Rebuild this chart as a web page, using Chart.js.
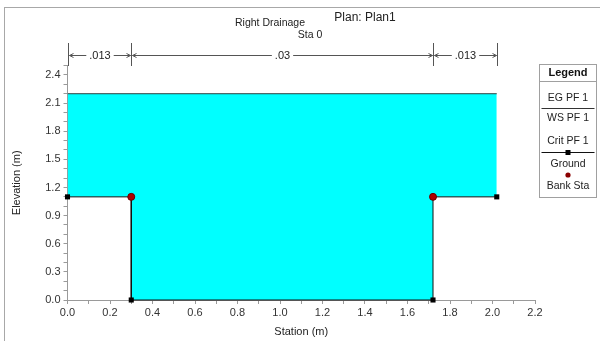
<!DOCTYPE html>
<html>
<head>
<meta charset="utf-8">
<script src="https://cdn.jsdelivr.net/npm/chart.js@4/dist/chart.umd.min.js"></script>
<style>
html,body{margin:0;padding:0;background:#fff;}
#wrap{width:600px;height:341px;position:relative;}
</style>
</head>
<body>
<div id="wrap"><canvas id="c" width="600" height="341"></canvas></div>
<script>
// ---- data ----
const groundStations = [0, 0.3, 0.3, 1.72, 1.72, 2.02];
const groundElev     = [1.1, 1.1, 0, 0, 1.1, 1.1];
const wsStations     = [0, 2.02];
const wsElev         = [2.2, 2.2];
const bankStations   = [0.3, 1.72];
const bankElev       = [1.1, 1.1];
const manningBreaks  = [0, 0.3, 1.72, 2.02];
const manningN       = ['.013', '.03', '.013'];
const legendLabels   = ['EG PF 1', 'WS PF 1', 'Crit PF 1', 'Ground', 'Bank Sta'];
const titleMain = 'Plan: Plan1';
const titleRiver = 'Right Drainage';
const titleSta = 'Sta 0';
const xLabelEvery = 2;   // label every 0.2 (minor 0.1)
const yLabelEvery = 3;   // label every 0.3 (minor 0.1)

const pts = (xs, ys) => xs.map((x, i) => ({x: x, y: ys[i]}));
const FONT = '"Liberation Sans", Arial, sans-serif';

const decor = {
  id: 'decor',
  beforeDraw(chart) {
    const ctx = chart.ctx;
    ctx.save();
    ctx.fillStyle = '#fff';
    ctx.fillRect(0, 0, chart.width, chart.height);
    ctx.strokeStyle = '#a8a8a8';
    ctx.lineWidth = 1;
    ctx.strokeRect(4.5, 7.5, 800, 600);
    ctx.restore();
  },
  afterDraw(chart) {
    const ctx = chart.ctx;
    const xs = chart.scales.x;
    ctx.save();
    // titles
    ctx.fillStyle = '#222';
    ctx.textAlign = 'center';
    ctx.textBaseline = 'middle';
    ctx.font = '12px ' + FONT;
    ctx.fillText(titleMain, 365, 18);
    ctx.font = '10.5px ' + FONT;
    ctx.fillText(titleRiver, 270, 23);
    ctx.fillText(titleSta, 310, 35);

    // Manning's n bar
    const yBar = 55.5;
    ctx.strokeStyle = '#555';
    ctx.lineWidth = 1;
    const bx = manningBreaks.map(v => Math.round(xs.getPixelForValue(v)) + 0.5);
    bx.forEach(px => {
      ctx.beginPath(); ctx.moveTo(px, 43); ctx.lineTo(px, 66); ctx.stroke();
    });
    ctx.font = '11px ' + FONT;
    ctx.fillStyle = '#222';
    for (let i = 0; i < manningN.length; i++) {
      const a = bx[i], b = bx[i + 1];
      const mid = (a + b) / 2;
      const w = ctx.measureText(manningN[i]).width;
      ctx.fillText(manningN[i], mid, yBar);
      ctx.beginPath();
      ctx.moveTo(a + 1, yBar); ctx.lineTo(mid - w / 2 - 3, yBar);
      ctx.moveTo(mid + w / 2 + 3, yBar); ctx.lineTo(b - 1, yBar);
      // arrow heads
      ctx.moveTo(a + 5, yBar - 2); ctx.lineTo(a + 1, yBar); ctx.lineTo(a + 5, yBar + 2);
      ctx.moveTo(b - 5, yBar - 2); ctx.lineTo(b - 1, yBar); ctx.lineTo(b - 5, yBar + 2);
      ctx.stroke();
    }

    // legend box
    const L = 539.5, R = 596.5, T = 64.5, B = 197.5, cx = (L + R) / 2;
    ctx.strokeStyle = '#a0a0a0';
    ctx.strokeRect(L, T, R - L, B - T);
    ctx.beginPath(); ctx.moveTo(L, 81.5); ctx.lineTo(R, 81.5); ctx.stroke();
    ctx.fillStyle = '#111';
    ctx.font = 'bold 11px ' + FONT;
    ctx.fillText('Legend', cx, 73);
    ctx.font = '10.5px ' + FONT;
    ctx.fillStyle = '#222';
    const ly = [98, 118, 141, 164, 186];
    legendLabels.forEach((t, i) => ctx.fillText(t, cx, ly[i]));
    // EG symbol
    ctx.strokeStyle = '#333';
    ctx.beginPath(); ctx.moveTo(L + 2, 108.5); ctx.lineTo(R - 2, 108.5); ctx.stroke();
    // Ground symbol
    ctx.strokeStyle = '#111';
    ctx.beginPath(); ctx.moveTo(L + 2, 152.5); ctx.lineTo(R - 2, 152.5); ctx.stroke();
    ctx.fillStyle = '#000';
    ctx.fillRect(cx - 2.5, 150, 5, 5);
    // Bank sta symbol
    ctx.fillStyle = '#8b0000';
    ctx.beginPath(); ctx.arc(cx, 175, 2.6, 0, Math.PI * 2); ctx.fill();
    ctx.restore();
  }
};

const fmt = (v) => (Math.round(v * 10) / 10).toFixed(1);

new Chart(document.getElementById('c'), {
  type: 'line',
  data: {
    datasets: [
      {
        label: 'Bank Sta',
        data: pts(bankStations, bankElev),
        showLine: false,
        clip: false,
        pointStyle: 'circle',
        pointRadius: 3.5,
        pointBackgroundColor: '#b00000',
        pointBorderColor: '#6a0000',
        pointBorderWidth: 1
      },
      {
        label: 'Ground',
        data: pts(groundStations, groundElev),
        clip: false,
        borderColor: '#111',
        borderWidth: 1,
        fill: false,
        pointStyle: 'rect',
        pointRadius: 3.6,
        pointBackgroundColor: '#000',
        pointBorderColor: '#000',
        pointBorderWidth: 0,
        tension: 0
      },
      {
        label: 'WS PF 1',
        data: pts(wsStations, wsElev),
        borderColor: '#2f3f3f',
        borderWidth: 1,
        backgroundColor: '#00ffff',
        fill: { target: 1 },
        pointRadius: 0,
        tension: 0
      }
    ]
  },
  options: {
    responsive: false,
    animation: false,
    devicePixelRatio: 1,
    layout: { padding: { left: 0, right: 65, top: 65.6, bottom: 0 } },
    plugins: { legend: { display: false }, tooltip: { enabled: false } },
    scales: {
      x: {
        type: 'linear',
        min: 0, max: 2.2,
        afterFit: (s) => { s.height = 41; },
        border: { color: '#9a9a9a', width: 1 },
        grid: { drawOnChartArea: false, drawTicks: true, tickLength: 4, color: '#9a9a9a' },
        ticks: {
          stepSize: 0.1, autoSkip: false, maxRotation: 0, padding: 2,
          color: '#333', font: { family: FONT, size: 11 },
          callback: (v) => (Math.round(v * 10) % xLabelEvery === 0 ? fmt(v) : '')
        },
        title: { display: true, text: 'Station (m)', color: '#222',
                 font: { family: FONT, size: 11 }, padding: { top: 0, bottom: 2 } }
      },
      y: {
        type: 'linear',
        min: 0, max: 2.5,
        afterFit: (s) => { s.width = 67.5; },
        border: { color: '#9a9a9a', width: 1 },
        grid: { drawOnChartArea: false, drawTicks: true, tickLength: 4, color: '#9a9a9a' },
        ticks: {
          stepSize: 0.1, autoSkip: false, padding: 3,
          color: '#333', font: { family: FONT, size: 11 },
          callback: (v) => (Math.round(v * 10) % yLabelEvery === 0 && v < 2.45 ? fmt(v) : '')
        },
        title: { display: true, text: 'Elevation (m)', color: '#222',
                 font: { family: FONT, size: 11 }, padding: { top: 10, bottom: 0 } }
      }
    }
  },
  plugins: [decor]
});
</script>
</body>
</html>
